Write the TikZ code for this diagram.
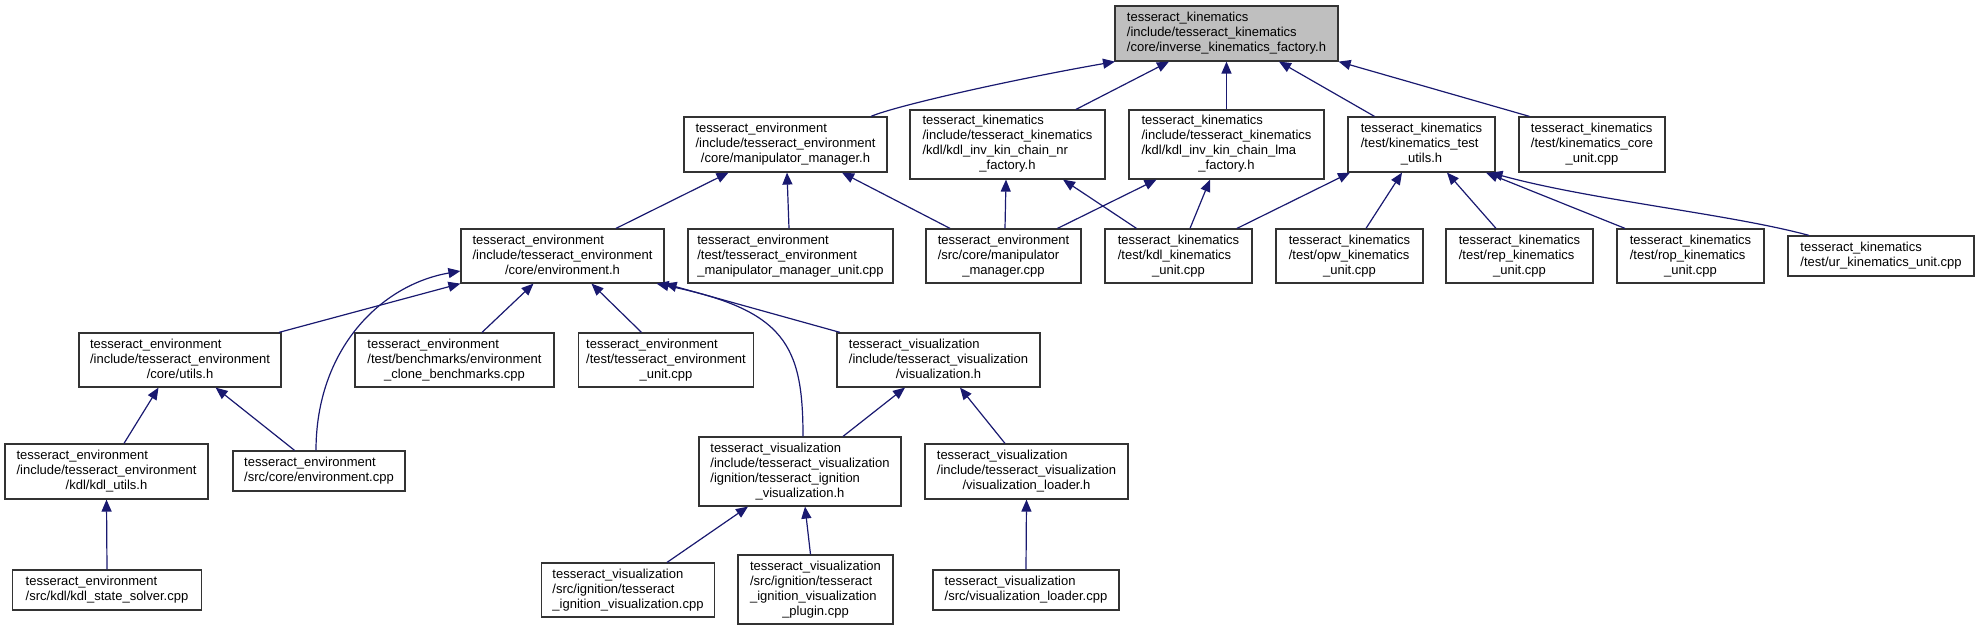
\documentclass[tikz,border=0pt]{standalone}
\usepackage{fontspec}
\setmainfont{Liberation Sans}
\usetikzlibrary{arrows.meta}
\definecolor{edgeblue}{HTML}{191970}
\definecolor{rootgray}{HTML}{BFBFBF}
\definecolor{boxline}{HTML}{333333}
\newcommand{\lab}[2]{\begin{tabular}{@{}l@{}}#1\\\multicolumn{1}{@{}c@{}}{#2}\end{tabular}}
\tikzset{
  box/.style={draw=boxline, line width=1.2pt, fill=white, inner sep=0pt, font=\fontsize{13}{15}\selectfont},
  edge/.style={draw=edgeblue, line width=1.2pt, -{Triangle[length=12pt,width=10pt]}}
}
\begin{document}
\begin{tikzpicture}[x=1pt,y=-1pt]
\useasboundingbox (0,0) rectangle (1979,631);
% row 0
\node[box, fill=rootgray, minimum width=223pt, minimum height=55pt] (root) at (1226.5,33.5)
  {\lab{tesseract\_kinematics\\/include/tesseract\_kinematics}{/core/inverse\_kinematics\_factory.h}};
% row 1
\node[box, minimum width=203pt, minimum height=55pt] (mmh) at (785.5,144.5)
  {\lab{tesseract\_environment\\/include/tesseract\_environment}{/core/manipulator\_manager.h}};
\node[box, minimum width=195pt, minimum height=69pt] (nr) at (1007.5,144.5)
  {\lab{tesseract\_kinematics\\/include/tesseract\_kinematics\\/kdl/kdl\_inv\_kin\_chain\_nr}{\_factory.h}};
\node[box, minimum width=195pt, minimum height=69pt] (lma) at (1226.5,144.5)
  {\lab{tesseract\_kinematics\\/include/tesseract\_kinematics\\/kdl/kdl\_inv\_kin\_chain\_lma}{\_factory.h}};
\node[box, minimum width=147pt, minimum height=55pt] (tu) at (1421.5,144.5)
  {\lab{tesseract\_kinematics\\/test/kinematics\_test}{\_utils.h}};
\node[box, minimum width=146pt, minimum height=55pt] (core) at (1592,144.5)
  {\lab{tesseract\_kinematics\\/test/kinematics\_core}{\_unit.cpp}};
% row 2
\node[box, minimum width=203pt, minimum height=54pt] (envh) at (562.5,256)
  {\lab{tesseract\_environment\\/include/tesseract\_environment}{/core/environment.h}};
\node[box, minimum width=205pt, minimum height=54pt] (mmu) at (790.5,256)
  {\lab{tesseract\_environment\\/test/tesseract\_environment}{\_manipulator\_manager\_unit.cpp}};
\node[box, minimum width=155pt, minimum height=54pt] (mmcpp) at (1003.5,256)
  {\lab{tesseract\_environment\\/src/core/manipulator}{\_manager.cpp}};
\node[box, minimum width=147pt, minimum height=54pt] (kdlk) at (1178.5,256)
  {\lab{tesseract\_kinematics\\/test/kdl\_kinematics}{\_unit.cpp}};
\node[box, minimum width=147pt, minimum height=54pt] (opw) at (1349.5,256)
  {\lab{tesseract\_kinematics\\/test/opw\_kinematics}{\_unit.cpp}};
\node[box, minimum width=147pt, minimum height=54pt] (rep) at (1519.5,256)
  {\lab{tesseract\_kinematics\\/test/rep\_kinematics}{\_unit.cpp}};
\node[box, minimum width=147pt, minimum height=54pt] (rop) at (1690.5,256)
  {\lab{tesseract\_kinematics\\/test/rop\_kinematics}{\_unit.cpp}};
\node[box, minimum width=186pt, minimum height=40pt] (ur) at (1881,256)
  {\lab{tesseract\_kinematics}{/test/ur\_kinematics\_unit.cpp}};
% row 3
\node[box, minimum width=202pt, minimum height=54pt] (utils) at (180,360)
  {\lab{tesseract\_environment\\/include/tesseract\_environment}{/core/utils.h}};
\node[box, minimum width=199pt, minimum height=54pt] (bench) at (454.5,360)
  {\lab{tesseract\_environment\\/test/benchmarks/environment}{\_clone\_benchmarks.cpp}};
\node[box, minimum width=175pt, minimum height=54pt] (envunit) at (666,360)
  {\lab{tesseract\_environment\\/test/tesseract\_environment}{\_unit.cpp}};
\node[box, minimum width=203pt, minimum height=54pt] (vish) at (938.5,360)
  {\lab{tesseract\_visualization\\/include/tesseract\_visualization}{/visualization.h}};
% row 4
\node[box, minimum width=203pt, minimum height=55pt] (kdlutils) at (106.5,471.5)
  {\lab{tesseract\_environment\\/include/tesseract\_environment}{/kdl/kdl\_utils.h}};
\node[box, minimum width=172pt, minimum height=40pt] (envcpp) at (319,471)
  {\lab{tesseract\_environment}{/src/core/environment.cpp}};
\node[box, minimum width=202pt, minimum height=69pt] (ignh) at (800,471.5)
  {\lab{tesseract\_visualization\\/include/tesseract\_visualization\\/ignition/tesseract\_ignition}{\_visualization.h}};
\node[box, minimum width=203pt, minimum height=55pt] (vlh) at (1026.5,471.5)
  {\lab{tesseract\_visualization\\/include/tesseract\_visualization}{/visualization\_loader.h}};
% row 5
\node[box, minimum width=189pt, minimum height=40pt] (ksolver) at (107,590)
  {\lab{tesseract\_environment}{/src/kdl/kdl\_state\_solver.cpp}};
\node[box, minimum width=173pt, minimum height=54pt] (igncpp) at (628,590)
  {\lab{tesseract\_visualization\\/src/ignition/tesseract}{\_ignition\_visualization.cpp}};
\node[box, minimum width=155pt, minimum height=69pt] (plugin) at (815.5,589.5)
  {\lab{tesseract\_visualization\\/src/ignition/tesseract\\\_ignition\_visualization}{\_plugin.cpp}};
\node[box, minimum width=186pt, minimum height=40pt] (vlcpp) at (1026,590)
  {\lab{tesseract\_visualization}{/src/visualization\_loader.cpp}};
% edges to root
\draw[edge] ([xshift=85.5pt]mmh.north) .. controls (895,106) and (1010,80) .. ([xshift=-111.5pt]root.south);
\draw[edge] ([xshift=68.5pt]nr.north) -- ([xshift=-57.5pt]root.south);
\draw[edge] (lma.north) -- (root.south);
\draw[edge] ([xshift=-47pt]tu.north) -- ([xshift=52.5pt]root.south);
\draw[edge] ([xshift=-62.5pt]core.north) -- (root.south east);
% edges to mmh
\draw[edge] ([xshift=53.5pt]envh.north) -- ([xshift=-57pt]mmh.south);
\draw[edge] ([xshift=-1.5pt]mmu.north) -- ([xshift=1.5pt]mmh.south);
\draw[edge] ([xshift=-53.5pt]mmcpp.north) -- ([xshift=56.5pt]mmh.south);
% edges to nr / lma
\draw[edge] ([xshift=1.5pt]mmcpp.north) -- ([xshift=-1.5pt]nr.south);
\draw[edge] ([xshift=54pt]mmcpp.north) -- ([xshift=-70pt]lma.south);
\draw[edge] ([xshift=-42pt]kdlk.north) -- ([xshift=55.5pt]nr.south);
\draw[edge] ([xshift=11.5pt]kdlk.north) -- ([xshift=-16.5pt]lma.south);
% edges to tu
\draw[edge] ([xshift=58.5pt]kdlk.north) -- ([xshift=-71.5pt]tu.south);
\draw[edge] ([xshift=16.5pt]opw.north) -- ([xshift=-19.5pt]tu.south);
\draw[edge] ([xshift=-23.5pt]rep.north) -- ([xshift=25.5pt]tu.south);
\draw[edge] ([xshift=-65.5pt]rop.north) -- ([xshift=64.5pt]tu.south);
\draw[edge] ([xshift=-72pt]ur.north) .. controls (1730,214) and (1590,200) .. ([xshift=69pt]tu.south);
% edges to envh
\draw[edge] ([xshift=99pt]utils.north) -- (envh.south west);
\draw[edge] ([xshift=-3pt]envcpp.north) .. controls (316,350) and (380,285) .. ([yshift=-15pt]envh.west);
\draw[edge] ([xshift=27.5pt]bench.north) -- ([xshift=-29pt]envh.south);
\draw[edge] ([xshift=-24.5pt]envunit.north) -- ([xshift=29pt]envh.south);
\draw[edge] ([xshift=-98.5pt]vish.north) -- (envh.south east);
\draw[edge] ([xshift=3pt]ignh.north) .. controls (803,345) and (785,310) .. ([xshift=-8pt]envh.south east);
% edges to utils / kdlutils
\draw[edge] ([xshift=17.5pt]kdlutils.north) -- ([xshift=-21.5pt]utils.south);
\draw[edge] ([xshift=-24.4pt]envcpp.north) -- ([xshift=35.6pt]utils.south);
\draw[edge] (ksolver.north) -- (kdlutils.south);
% edges to vish / vlh / ignh
\draw[edge] ([xshift=43pt]ignh.north) -- ([xshift=-33.5pt]vish.south);
\draw[edge] ([xshift=-21.5pt]vlh.north) -- ([xshift=21.5pt]vish.south);
\draw[edge] ([xshift=39pt]igncpp.north) -- ([xshift=-52pt]ignh.south);
\draw[edge] ([xshift=-5pt]plugin.north) -- ([xshift=5pt]ignh.south);
\draw[edge] (vlcpp.north) -- (vlh.south);
\end{tikzpicture}
\end{document}
